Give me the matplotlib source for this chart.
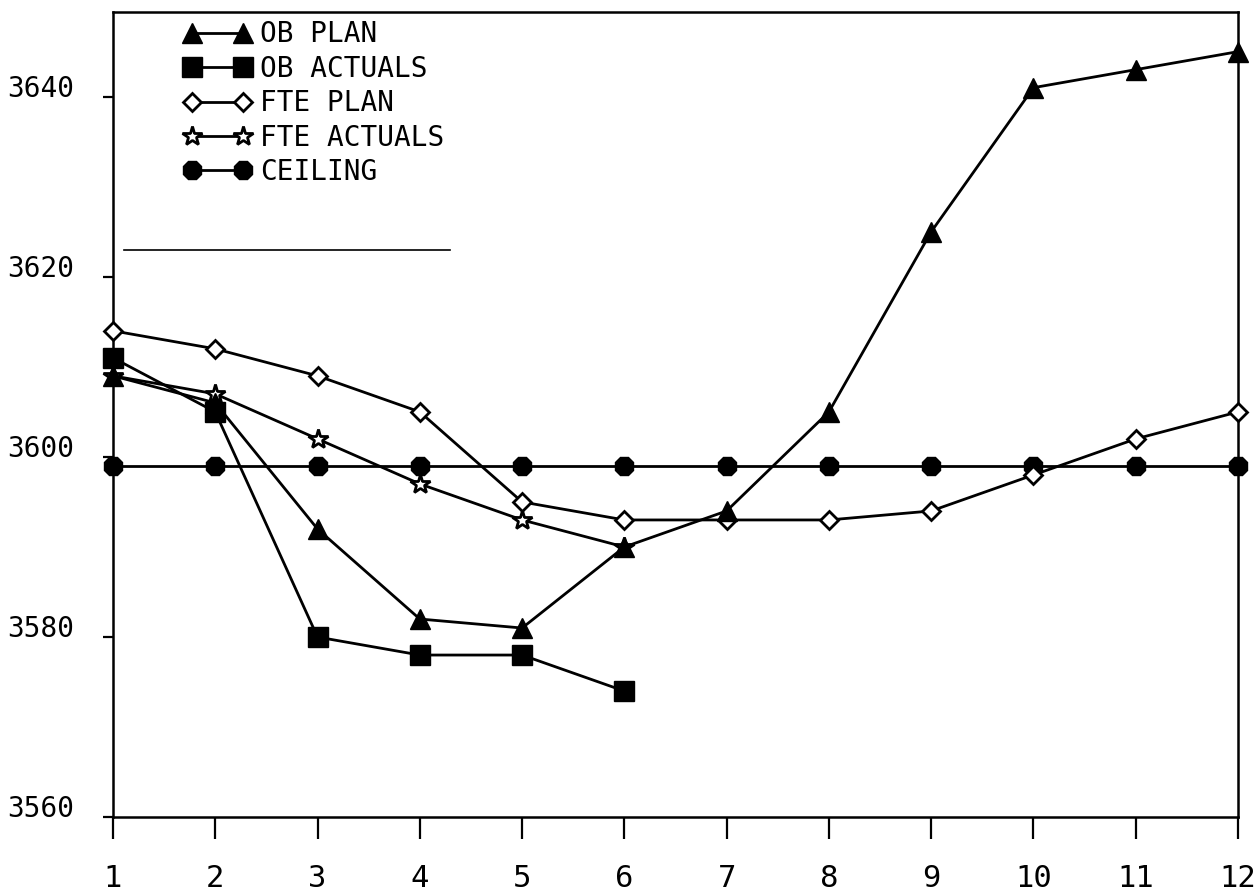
import numpy as np
import matplotlib
matplotlib.use('Agg')
import matplotlib.pyplot as plt
import matplotlib.transforms as mtransforms

plt.rcParams['font.family'] = ['DejaVu Sans Mono']

# months and the five series
months = np.arange(1, 13)
ob_plan = [3609, 3606, 3592, 3582, 3581, 3590, 3594, 3605, 3625, 3641, 3643, 3645]
ob_actuals = [3611, 3605, 3580, 3578, 3578, 3574]
fte_plan = [3614, 3612, 3609, 3605, 3595, 3593, 3593, 3593, 3594, 3598, 3602, 3605]
fte_actuals = [3609, 3607, 3602, 3597, 3593, 3590]
ceiling = [3599] * 12

y_ticks = [3560, 3580, 3600, 3620, 3640]

fig = plt.figure(figsize=(12.55, 8.96), dpi=100)
ax = fig.add_axes([0.090, 0.088, 0.8965, 0.8986])

lw = 2.0
ax.plot(months, ceiling, color='black', lw=lw, marker='8', ms=14,
        mfc='black', mec='black', label='CEILING', zorder=2, clip_on=False)
ax.plot(months, fte_plan, color='black', lw=lw, marker='D', ms=9,
        mfc='white', mec='black', mew=2, label='FTE PLAN', zorder=3,
        clip_on=False)
ax.plot(months[:len(fte_actuals)], fte_actuals, color='black', lw=lw,
        marker='*', ms=15, mfc='white', mec='black', mew=2,
        label='FTE ACTUALS', zorder=3, clip_on=False)
ax.plot(months[:len(ob_actuals)], ob_actuals, color='black', lw=lw,
        marker='s', ms=14, mfc='black', mec='black', label='OB ACTUALS',
        zorder=4, clip_on=False)
ax.plot(months, ob_plan, color='black', lw=lw, marker='^', ms=14,
        mfc='black', mec='black', label='OB PLAN', zorder=5, clip_on=False)

# leftover rule under the legend
ax.axhline(3623, xmin=0.01, xmax=0.30, color='black', lw=1.2)

ax.set_xlim(1, 12)
ax.set_ylim(3560, 3649.4)
ax.set_xticks(months)
ax.set_yticks(y_ticks)
ax.tick_params(axis='x', direction='out', length=16, width=1.6, pad=18,
               labelsize=22)
ax.tick_params(axis='y', direction='out', length=7, width=1.6, pad=21,
               labelsize=20)
for s in ax.spines.values():
    s.set_linewidth(1.8)

# y labels sit a little above their ticks
shift = mtransforms.ScaledTranslation(0, 8 / 72, fig.dpi_scale_trans)
for lab in ax.get_yticklabels():
    lab.set_transform(lab.get_transform() + shift)

handles, labels = ax.get_legend_handles_labels()
order = ['OB PLAN', 'OB ACTUALS', 'FTE PLAN', 'FTE ACTUALS', 'CEILING']
hmap = dict(zip(labels, handles))
ax.legend([hmap[k] for k in order], order, loc='upper left',
          bbox_to_anchor=(0.063, 0.9895), frameon=False, numpoints=2,
          fontsize=20, handlelength=2.44, handletextpad=0.31,
          borderpad=0, borderaxespad=0, labelspacing=0.23)

fig.savefig('out.png', dpi=100)
